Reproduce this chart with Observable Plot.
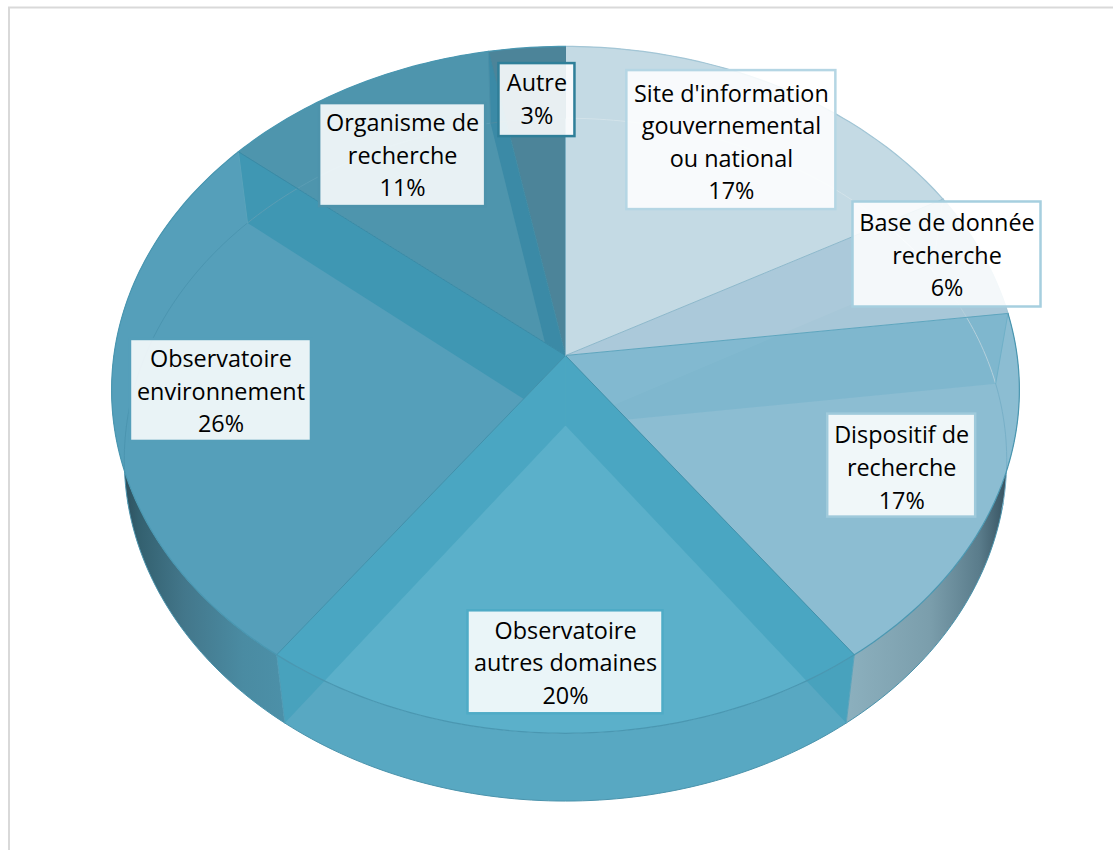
<!DOCTYPE html>
<html><head><meta charset="utf-8">
<script src="https://cdn.jsdelivr.net/npm/d3@7"></script>
<script src="https://cdn.jsdelivr.net/npm/@observablehq/plot@0.6"></script>
<style>html,body{margin:0;padding:0;background:#fff}svg{display:block}</style>
</head><body><div id="chart"></div>
<script>
const categories = ["Site d'information\ngouvernemental\nou national","Base de donnée\nrecherche","Dispositif de\nrecherche","Observatoire\nautres domaines","Observatoire\nenvironnement","Organisme de\nrecherche","Autre"];
const percents = [17,6,17,20,26,11,3];
const faceColors = ["#c4dae4","#a7c7d8","#8cbdd2","#5bb0ca","#559fba","#4e95ad","#4c8499"];
const wallColors = ["#ffffff","#5fa9c6","#3298b6","#3298b6","#1e8cab","#1e7a9a","#1e7a9a"];
const wallAlpha = [0.05,0.28,0.41,0.41,0.4,0.38,0];
const borderColors = ["#b5d6e4","#a6cfdf","#9fcadb","#4fabc6","#559fba","#4d93ab","#2f7f99"];
const arcColors = ["#d3e3ea","#b4d0dc","#78b0c8","none","#4b95b0","#5b9db4","#4c8ba1"];
const rimColors = ["#8aaab8","#8aaab8","url(#rimR)","#58a8c2","url(#rimL)","#4d93ab","#4b8298"];
const spokeColors = ["#8db8cb","#5ea5be","#4390aa","#4390aa","#3a8aa5","#3f8aa3","#7fb0c4"];
const cornerColors = ["#b6d0dc","#6fb0c8","#5aa3bb","#4f9ab4","#5aa3bb","#4a8fa8","#4b8298"];
const boxSizes = [[209,139],[188,105],[148,103],[195,103],[181,102],[166,103],[76,73]];
const labelNudges = [[10,-17],[79,-28],[29,10],[0,41.5],[-19,3],[-7,-4],[0,-31]];
const boxShifts = [0,1,0,1.5,1,2,3];
const labelRadius = 0.72;

// Perspective view of the disc: top and bottom faces
const topFace = {cx:565, cy:355, a:451.6, b:340, p:0.1};
const botFace = {cx:565, cy:425, a:439, b:338, p:0.1};
const rad = d => d*Math.PI/180;
const proj = (f,deg,r=1) => {
  const t = rad(deg), w = 1 + f.p*r*Math.cos(t);
  return {x: f.cx + r*f.a*Math.sin(t)/w, y: f.cy - r*f.b*Math.cos(t)/w};
};
const arc = (f,d0,d1) => d3.range(0,1.0001,1/Math.max(2,Math.ceil(Math.abs(d1-d0)))).map(k=>proj(f,d0+(d1-d0)*k));

const total = d3.sum(percents);
let acc = 0;
const slices = percents.map((v,i)=>{const s=acc/total*360; acc+=v; return {i,v,start:s,end:acc/total*360,mid:(s+acc/total*360)/2};});

const tag = (pts,id,color,extra={}) => pts.map(p=>({...p,id,color,...extra}));
const apexT = {x:topFace.cx,y:topFace.cy}, apexB={x:botFace.cx,y:botFace.cy};

const rims = slices.flatMap(s=>tag([...arc(topFace,s.start,s.end),...arc(botFace,s.end,s.start)],"r"+s.i,rimColors[s.i]));
const faceOf = s => tag([apexT,...arc(topFace,s.start,s.end),apexT],"f"+s.i,faceColors[s.i]);
const wallOf = i => {const s=slices[i];return tag([apexT,proj(topFace,s.end),proj(botFace,s.end),apexB,apexT],"w"+i,wallColors[i],{alpha:wallAlpha[i]});};
const backLimit = [[0,61.2],[61.2,82.8],[82.8,104],null,[257,309.6],[309.6,349.2],[349.2,360]];
const innerArcs = slices.flatMap(s=>{const b=backLimit[s.i]; return b?tag(arc(botFace,b[0],b[1]),"a"+s.i,arcColors[s.i]):[];});
const topEdge = slices.flatMap(s=>tag(arc(topFace,s.start,s.end),"t"+s.i,s.i<2?"#a3c6d6":"#4a97b1"));
const botEdge = tag(arc(botFace,103,257),"b","#4a93ac");
const spokes = slices.flatMap(s=>[...tag([apexT,proj(topFace,s.end)],"s"+s.i,spokeColors[s.i]),...tag([proj(topFace,s.end),proj(botFace,s.end)],"c"+s.i,cornerColors[s.i])]);

const boxes = slices.map(s=>{const p=proj(topFace,s.mid,labelRadius),[w,h]=boxSizes[s.i],[nx,ny]=labelNudges[s.i];
  const x=p.x+nx,y=p.y+ny,yb=y+boxShifts[s.i];
  return {x,y,x1:x-w/2,x2:x+w/2,y1:yb-h/2,y2:yb+h/2,border:borderColors[s.i],text:categories[s.i]+"\n"+s.v+"%"};});

const polygon = d => Plot.line(d,{x:"x",y:"y",z:"id",fill:"color",stroke:"none",curve:"linear"});
const wall = i => Plot.line(wallOf(i),{x:"x",y:"y",z:"id",fill:"color",fillOpacity:"alpha",stroke:"none",curve:"linear"});

const plot = Plot.plot({
  width:1113,height:850,margin:0,
  x:{domain:[0,1113],range:[0,1113],axis:null},
  y:{domain:[0,850],range:[0,850],axis:null},
  color:{type:"identity"},
  marks:[
    Plot.rect([{}],{x1:()=>9,x2:()=>1130,y1:()=>7.5,y2:()=>870,fill:"#fff",stroke:"#d9d9d9",strokeWidth:2}),
    polygon(rims),
    Plot.line(botEdge,{x:"x",y:"y",z:"id",stroke:"color",strokeWidth:1,curve:"linear"}),
    polygon(slices.flatMap(faceOf)),
    wall(0), wall(5),
    polygon(faceOf(slices[4])),
    wall(4), wall(1),
    polygon(faceOf(slices[3])),
    wall(2), wall(3),
    Plot.line(innerArcs,{x:"x",y:"y",z:"id",stroke:"color",strokeWidth:1,curve:"linear"}),
    Plot.line(spokes,{x:"x",y:"y",z:"id",stroke:"color",strokeWidth:1,curve:"linear"}),
    Plot.line(topEdge,{x:"x",y:"y",z:"id",stroke:"color",strokeWidth:1.2,curve:"linear"}),
    Plot.rect(boxes,{x1:"x1",x2:"x2",y1:"y1",y2:"y2",fill:"#fff",fillOpacity:0.87,stroke:"border",strokeWidth:2.5,ariaLabel:"labelbox"}),
    Plot.text(boxes,{x:"x",y:"y",text:"text",fontFamily:"'Open Sans'",fontSize:23.4,lineHeight:1.39,fill:"#000",textAnchor:"middle",lineAnchor:"middle"})
  ]
});
d3.select(plot).style("background","#fff");
const defs = d3.select(plot).insert("defs",":first-child");
const grad=(id,x1,x2,stops)=>{const g=defs.append("linearGradient").attr("id",id).attr("gradientUnits","userSpaceOnUse").attr("x1",x1).attr("x2",x2).attr("y1",0).attr("y2",0);
  stops.forEach(([o,c])=>g.append("stop").attr("offset",o).attr("stop-color",c));};
grad("rimR",846,1012,[[0,"#8cb0be"],[0.5,"#7b9eac"],[0.8,"#5a7c8b"],[1,"#2f4a58"]]);
grad("rimL",118,284,[[0,"#2c4a57"],[0.12,"#33606f"],[0.4,"#43778b"],[0.75,"#4a8ba2"],[1,"#4c90a8"]]);
d3.select(plot).selectAll("[aria-label=labelbox] rect").style("filter","drop-shadow(3px 5px 5px rgba(20,70,90,0.35))");
document.getElementById("chart").append(plot);
</script></body></html>
